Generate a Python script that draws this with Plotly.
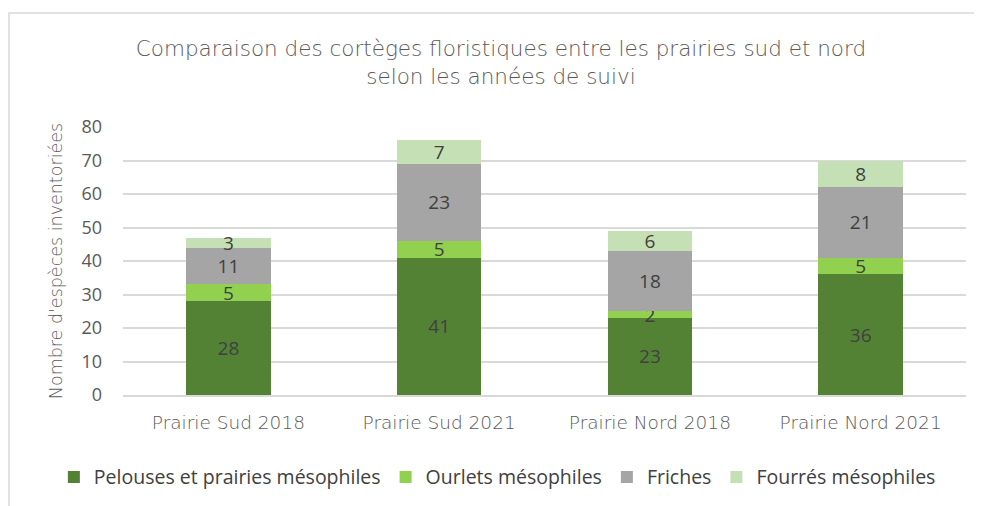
import plotly.graph_objects as go

categories = ["Prairie Sud 2018", "Prairie Sud 2021", "Prairie Nord 2018", "Prairie Nord 2021"]
series_names = ["Pelouses et prairies mésophiles", "Ourlets mésophiles", "Friches", "Fourrés mésophiles"]
pelouses = [28, 41, 23, 36]
ourlets = [5, 5, 2, 5]
friches = [11, 23, 18, 21]
fourres = [3, 7, 6, 8]
colors = ["#548235", "#92D050", "#A5A5A5", "#C5E0B4"]

thin = "DejaVu Sans"
fig = go.Figure()
for name, vals, col in zip(series_names, [pelouses, ourlets, friches, fourres], colors):
    fig.add_trace(go.Bar(
        x=categories, y=vals, name=name,
        marker=dict(color=col, line=dict(width=0)),
        text=[str(v) for v in vals], textposition="inside",
        insidetextanchor="middle", textangle=0,
        textfont=dict(family="Open Sans", size=19, color="#404040"),
        constraintext="none", hoverinfo="skip",
    ))

fig.update_layout(
    barmode="stack", bargap=0.6,
    width=982, height=506,
    paper_bgcolor="white", plot_bgcolor="white",
    margin=dict(l=115, r=24, t=119, b=119, autoexpand=False),
    uniformtext=dict(mode="show", minsize=18),
    title=dict(
        text="Comparaison des cortèges floristiques entre les prairies sud et nord<br>selon les années de suivi",
        x=0.502, xanchor="center", y=0.905, yanchor="top",
        font=dict(family=thin, size=21.5, color="#595959", weight=200),
    ),
    showlegend=True,
    legend=dict(
        orientation="h", x=-0.082, xanchor="left", y=-0.234, yanchor="top",
        font=dict(family="Open Sans", size=19.5, color="#404040"),
        traceorder="normal", itemwidth=30,
    ),
    xaxis=dict(
        tickfont=dict(family=thin, size=18.5, color="#595959", weight=200),
        showline=True, linecolor="#D9D9D9", linewidth=1.5, ticks="",
        ticklabelstandoff=10,
    ),
    yaxis=dict(
        range=[0, 80], dtick=10, showgrid=True, gridcolor="#D9D9D9", gridwidth=1.5,
        zeroline=False,
        tickfont=dict(family="Open Sans", size=18, color="#595959"),
        ticklabelstandoff=20,
        title=dict(text="Nombre d'espèces inventoriées",
                   font=dict(family=thin, size=17.5, color="#595959", weight=200), standoff=14),
    ),
)

fig.add_shape(type="rect", xref="paper", yref="paper",
              x0=-0.1352, x1=1.2, y0=-0.6, y1=1.425,
              line=dict(color="#D9D9D9", width=1.5), fillcolor="rgba(0,0,0,0)", layer="below")

fig.write_html("out.html")
